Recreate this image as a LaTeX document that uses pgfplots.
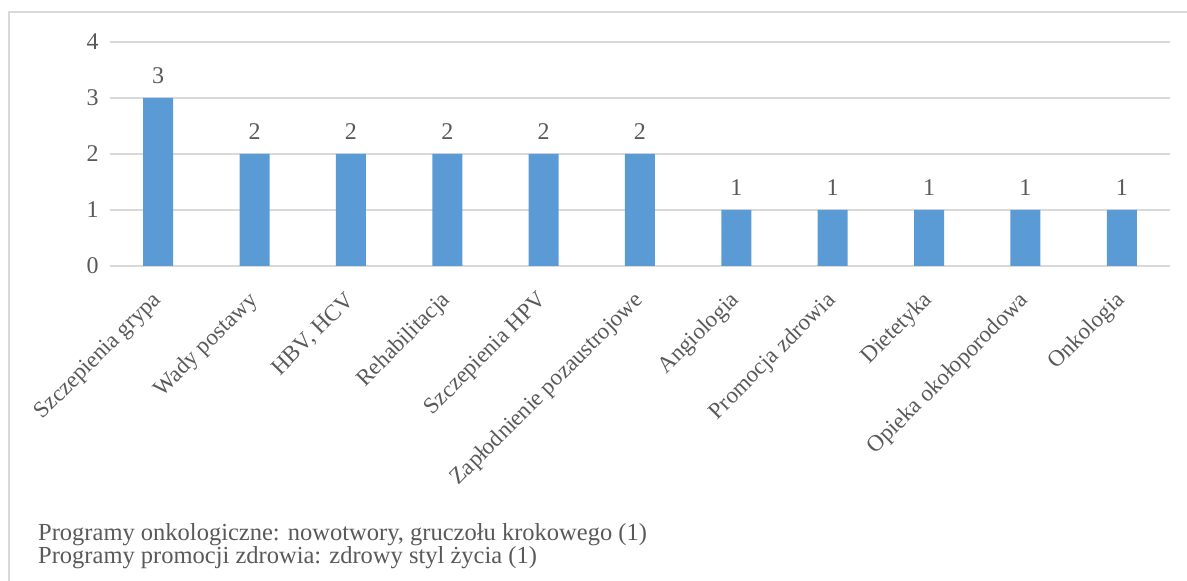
\documentclass[border=0pt]{standalone}
\usepackage{pgfplots}
\pgfplotsset{compat=1.18}
\usepackage{fontspec}
\setmainfont{Liberation Serif}
\definecolor{barblue}{HTML}{5B9BD5}
\definecolor{txt}{HTML}{595959}
\definecolor{gridc}{HTML}{D9D9D9}
\begin{document}
\fontsize{24.5}{29}\selectfont
\begin{tikzpicture}[x=1pt,y=1pt]
\path[use as bounding box] (0,0) rectangle (1187,581);
\draw[gridc, line width=1.5pt] (9,0) -- (9,569) -- (1187,569);
\begin{axis}[
  at={(110pt,315pt)}, anchor=south west,
  scale only axis, width=1060pt, height=224pt,
  xmin=-0.5, xmax=10.5, ymin=0, ymax=4,
  ytick={0,1,2,3,4},
  xtick=data,
  xticklabels={Szczepienia grypa, Wady postawy, {HBV, HCV}, Rehabilitacja, Szczepienia HPV, Zapłodnienie pozaustrojowe, Angiologia, Promocja zdrowia, Dietetyka, Opieka okołoporodowa, Onkologia},
  axis line style={draw=none},
  major tick length=0pt,
  ymajorgrids,
  grid style={gridc, line width=1.5pt},
  ybar, bar width=30pt,
  tick label style={font=\fontsize{24}{28}\selectfont, text=txt},
  xticklabel style={font=\fontsize{23}{27}\selectfont, rotate=45, anchor=east, xshift=-14pt, yshift=-22pt},
  /pgf/number format/assume math mode=true,
  yticklabel style={xshift=-3pt},
  nodes near coords,
  every node near coord/.append style={font=\fontsize{24}{28}\selectfont, text=txt, yshift=6pt},
  clip=false,
]
\addplot[fill=barblue, draw=none] coordinates {(0,3) (1,2) (2,2) (3,2) (4,2) (5,2) (6,1) (7,1) (8,1) (9,1) (10,1)};
\end{axis}
\node[anchor=base west, text=txt, inner sep=0pt] at (38,40) {Programy onkologiczne: nowotwory, gruczołu krokowego (1)};
\node[anchor=base west, text=txt, inner sep=0pt] at (38,17) {Programy promocji zdrowia: zdrowy styl życia (1)};
\end{tikzpicture}
\end{document}
